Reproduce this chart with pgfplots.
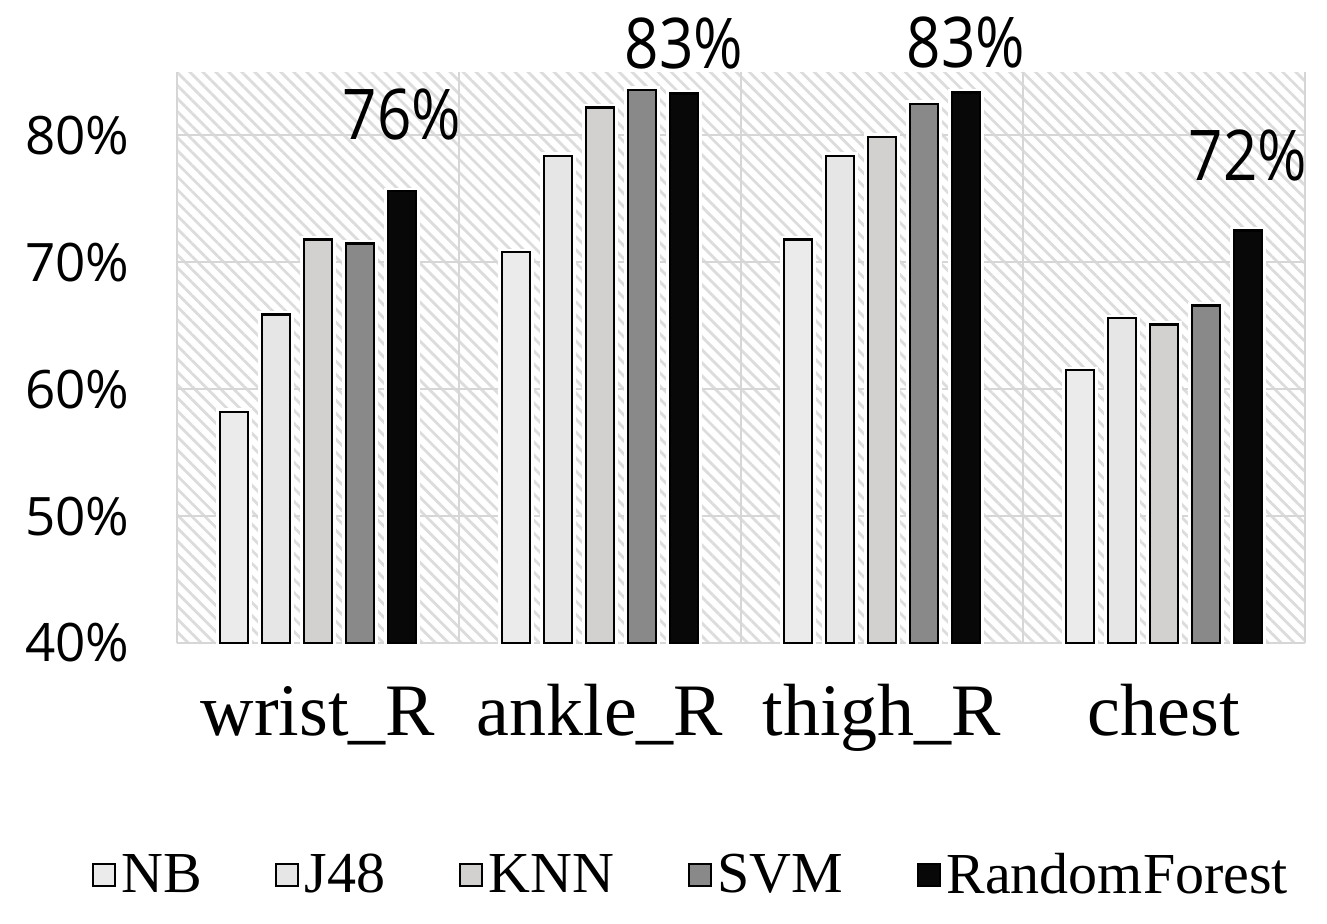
\documentclass[border=0pt]{standalone}
\usepackage{pgfplots}
\pgfplotsset{compat=1.18}
\usepackage{pgfplotstable}
\usepackage{fontspec}
\setmainfont{Liberation Serif}
\newfontfamily\tickfont{Open Sans}
\newfontfamily\labfont[FakeStretch=0.86]{Open Sans}
\usetikzlibrary{patterns.meta}

\definecolor{cNB}{HTML}{EBEBEB}
\definecolor{cJ}{HTML}{E6E6E6}
\definecolor{cK}{HTML}{D3D0D0}
\definecolor{cS}{HTML}{898989}
\definecolor{cR}{HTML}{080808}
\definecolor{hatchc}{HTML}{DCDCDC}
\definecolor{gridc}{HTML}{D6D6D6}

\pgfplotstableread{
x nb j48 knn svm rf lab off
0 58.2 65.9 71.8 71.5 75.6 76 25
1 70.8 78.4 82.2 83.6 83.3 83 11.5
2 71.8 78.4 79.9 82.5 83.4 83 11.5
3 61.5 65.6 65.1 66.6 72.5 72 24
}\data

\begin{document}
\begin{tikzpicture}
\path[use as bounding box] (-88.5pt,-140pt) rectangle (575pt,321.5pt);
\begin{axis}[
  scale only axis, width=564pt, height=285.5pt,
  xmin=-0.5, xmax=3.5, ymin=40, ymax=85,
  clip=false,
  axis line style={draw=none},
  major tick length=0pt, tick style={draw=none},
  ytick={40,50,60,70,80},
  yticklabels={40\%,50\%,60\%,70\%,80\%},
  yticklabel style={font=\tickfont\fontsize{26.5}{30}\selectfont, anchor=east, inner sep=0pt, xshift=-23.5pt},
  xtick={0,1,2,3},
  xticklabels={wrist\_R, ankle\_R, thigh\_R, chest},
  xticklabel style={font=\fontsize{37}{42}\selectfont, anchor=base, inner sep=0pt, yshift=-46pt},
  extra x ticks={-0.5,0.5,1.5,2.5,3.5},
  extra x tick labels={},
  extra x tick style={grid=major, major grid style={gridc, line width=1pt}},
  ymajorgrids,
  major grid style={gridc, line width=1pt},
  axis background/.style={pattern={Lines[angle=-45,distance=4.6pt,line width=1.4pt]}, pattern color=hatchc},
  ybar=7pt, bar width=14pt,
  legend columns=5,
  legend style={at={(0.4548,-0.406)}, anchor=center, draw=none, fill=none,
    font=\fontsize{29}{34}\selectfont,
    nodes={inner sep=1.5pt},
    /tikz/every even column/.append style={column sep=34pt}},
  legend cell align=left,
  legend image code/.code={\draw[#1, line width=1pt] (0pt,-5.5pt) rectangle (11pt,5.5pt);},
]
\addplot[fill=cNB, draw=black, line width=1.2pt, preaction={draw=white, line width=3.6pt}] table[x=x,y=nb]{\data};
\addplot[fill=cJ, draw=black, line width=1.2pt, preaction={draw=white, line width=3.6pt}] table[x=x,y=j48]{\data};
\addplot[fill=cK, draw=black, line width=1.2pt, preaction={draw=white, line width=3.6pt}] table[x=x,y=knn]{\data};
\addplot[fill=cS, draw=black, line width=1.2pt, preaction={draw=white, line width=3.6pt}] table[x=x,y=svm]{\data};
\addplot[fill=cR, draw=black, line width=1.2pt, preaction={draw=white, line width=3.6pt},
  point meta=explicit symbolic,
  visualization depends on={\thisrow{off} \as \labshift},
  nodes near coords={\pgfplotspointmeta\%},
  nodes near coords style={font=\labfont\fontsize{35}{40}\selectfont, anchor=south, inner sep=0pt, yshift=\labshift pt, text=black}
] table[x=x,y=rf,meta=lab]{\data};
\legend{NB,J48,KNN,SVM,RandomForest}
\end{axis}
\end{tikzpicture}
\end{document}
